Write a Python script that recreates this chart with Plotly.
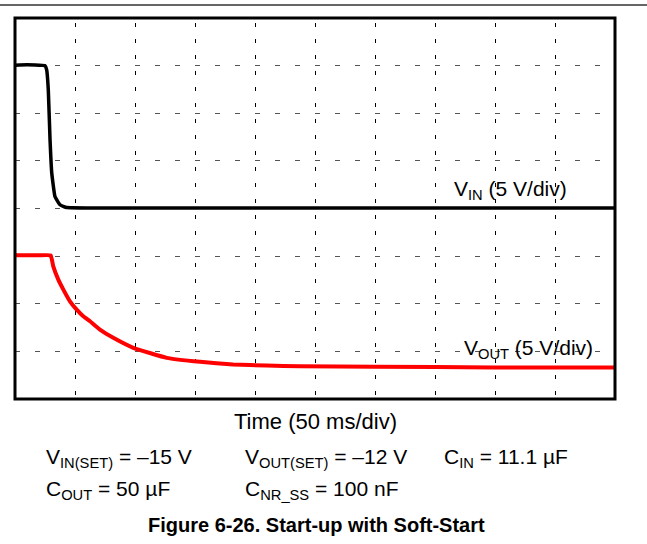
import plotly.graph_objects as go

# Time in ms (50 ms/div, 10 div), voltage in scope units (5 V/div, 8 div)
vin_t = [0, 10, 20, 25, 26.4, 27.75, 29.2, 30.6, 33.3, 37.5, 43.1, 100, 200, 300, 400, 500]
vin_v = [35.05, 35.1, 35.05, 35.0, 34.55, 32.45, 27.2, 23.75, 21.26, 20.39, 20.1, 20.05, 20.05, 20.05, 20.05, 20.05]

vout_t = [0, 10, 20, 29.75, 31.9, 36.1, 40.3, 45.8, 51.4, 56.9, 62.5, 70.8, 81.9, 98.6,
          126.4, 154.2, 181.7, 209.75, 237.5, 300, 400, 500]
vout_v = [15.08, 15.1, 15.08, 15.08, 13.92, 12.53, 11.48, 10.25, 9.38, 8.68, 8.16, 7.29, 6.42, 5.37,
          4.32, 3.90, 3.62, 3.51, 3.44, 3.38, 3.32, 3.30]

x_div = 50
y_div = 5
x_range = [0, 500]
y_range = [0, 40]

vin_label = "V<sub>IN</sub> (5 V/div)"
vout_label = "V<sub>OUT</sub> (5 V/div)"
x_title = "Time (50 ms/div)"
cond_row1 = ["V<sub>IN(SET)</sub> = \u201315 V", "V<sub>OUT(SET)</sub> = \u201312 V", "C<sub>IN</sub> = 11.1 \u00b5F"]
cond_row2 = ["C<sub>OUT</sub> = 50 \u00b5F", "C<sub>NR_SS</sub> = 100 nF"]
fig_title = "<b>Figure 6-26. Start-up with Soft-Start</b>"

W, H = 647, 544
L, R, T, B = 15, 32, 18, 144.5
pw, ph = W - L - R, H - T - B

def px(xp):
    return (xp - L) / pw

def py(yp):
    return (H - B - yp) / ph

FONT = "Liberation Sans, Arial, sans-serif"

fig = go.Figure()
fig.add_trace(go.Scatter(x=vin_t, y=vin_v, mode="lines",
                         line=dict(color="#000000", width=3.5, shape="spline", smoothing=0.3),
                         showlegend=False, hoverinfo="skip"))
fig.add_trace(go.Scatter(x=vout_t, y=vout_v, mode="lines",
                         line=dict(color="#ff0000", width=4, shape="spline", smoothing=0.3),
                         showlegend=False, hoverinfo="skip"))

fig.update_xaxes(range=x_range, dtick=x_div, tick0=0, showticklabels=False, ticks="",
                 showgrid=True, gridcolor="#000000", gridwidth=1, griddash="0px,5px,4px,7px",
                 zeroline=False, showline=False, fixedrange=True)
fig.update_yaxes(range=y_range, dtick=y_div, tick0=0, showticklabels=False, ticks="",
                 showgrid=True, gridcolor="#555555", gridwidth=1, griddash="5px,15px",
                 zeroline=False, showline=False, fixedrange=True)

# frame and page rule
fig.add_shape(type="rect", xref="paper", yref="paper", x0=0, x1=1, y0=0, y1=1,
              line=dict(color="#000000", width=3), layer="above")
fig.add_shape(type="line", xref="paper", yref="paper", x0=px(0), x1=px(W), y0=py(5), y1=py(5),
              line=dict(color="#333333", width=1.5))

ann = []
ann.append(dict(text=vin_label, x=px(452), y=py(190), xanchor="left", yanchor="middle"))
ann.append(dict(text=vout_label, x=px(462), y=py(349), xanchor="left", yanchor="middle"))
ann.append(dict(text=x_title, x=px(315.5), y=py(422), xanchor="center", yanchor="middle",
                font=dict(size=22, color="#000000", family=FONT)))
cols = [44, 243, 442]
for i, t in enumerate(cond_row1):
    ann.append(dict(text=t, x=px(cols[i]), y=py(458.5), xanchor="left", yanchor="middle"))
for i, t in enumerate(cond_row2):
    ann.append(dict(text=t, x=px(cols[i]), y=py(490.5), xanchor="left", yanchor="middle"))
ann.append(dict(text=fig_title, x=px(316), y=py(526), xanchor="center", yanchor="middle",
                font=dict(size=20, color="#000000", family=FONT)))

for a in ann:
    a.setdefault("font", dict(size=21, color="#000000", family=FONT))
    a.update(xref="paper", yref="paper", showarrow=False)
fig.update_layout(annotations=ann)

fig.update_layout(width=W, height=H, margin=dict(l=L, r=R, t=T, b=B, pad=0),
                  paper_bgcolor="#ffffff", plot_bgcolor="#ffffff",
                  font=dict(family=FONT, color="#000000"))

fig.write_html("out.html", config={"displayModeBar": False, "staticPlot": True},
               post_script="document.body.style.margin='0';document.body.style.padding='0';")
